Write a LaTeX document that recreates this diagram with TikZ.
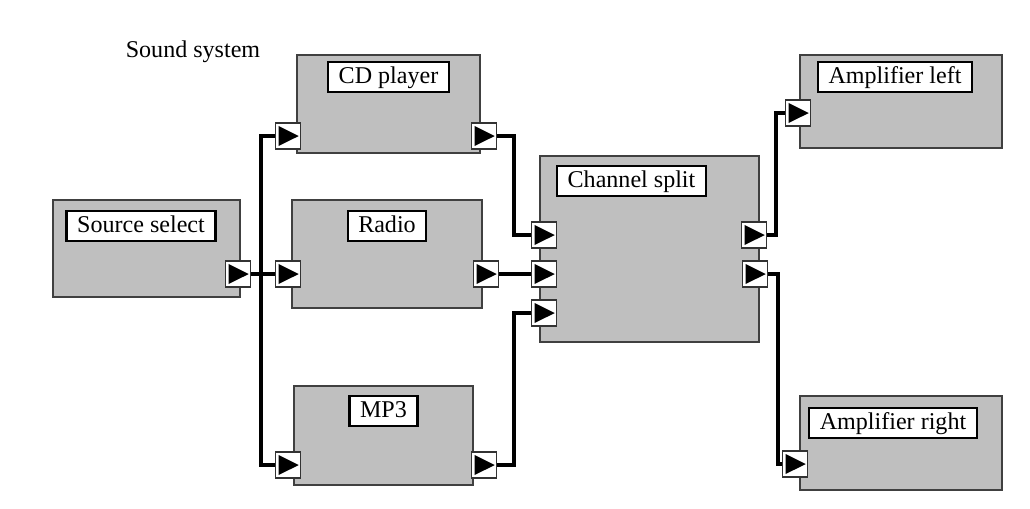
\documentclass[tikz,border=0pt]{standalone}
\usepackage{fontspec}
\setmainfont{Liberation Serif}
\usetikzlibrary{positioning}

\begin{document}
\begin{tikzpicture}[x=0.02cm, y=-0.02cm,
	every node/.style={font=\fontsize{13.7}{16}\selectfont},
	block/.style={draw=black!75, line width=1pt, fill=black!25, inner sep=0pt},
	tag/.style={draw, line width=1.3pt, fill=white, inner xsep=6pt, inner ysep=2pt, text height=9.8pt, text depth=3.2pt},
	port/.style={draw=black!80, line width=0.9pt, fill=white, inner sep=0pt, minimum width=0.5cm, minimum height=0.52cm,
		path picture={\fill[black] ([xshift=1.8pt,yshift=1.7pt]path picture bounding box.south west)
			-- ([xshift=1.8pt,yshift=-1.7pt]path picture bounding box.north west)
			-- ([xshift=-1pt]path picture bounding box.east) -- cycle;}},
	wire/.style={line width=2.2pt}]
	\useasboundingbox (0,0) rectangle (1030,508);
	\node (title) at (193,52) {Sound system};
	% blocks
	\node[block, minimum width=3.74cm, minimum height=1.94cm] (src) at (146.5,248.5) {};
	\node[block, minimum width=3.66cm, minimum height=1.96cm] (cd) at (388.5,104) {};
	\node[block, minimum width=3.80cm, minimum height=2.16cm] (radio) at (387,254) {};
	\node[block, minimum width=3.58cm, minimum height=1.98cm] (mp3) at (383.5,435.5) {};
	\node[block, minimum width=4.38cm, minimum height=3.72cm] (split) at (649.5,249) {};
	\node[block, minimum width=4.04cm, minimum height=1.86cm] (ampl) at (901,101.5) {};
	\node[block, minimum width=4.04cm, minimum height=1.88cm] (ampr) at (901,443) {};
	% block names
	\node[tag, below=0.22cm of src.north, xshift=-0.11cm] (srctag) {Source select};
	\node[tag, below=0.14cm of cd.north] (cdtag) {CD player};
	\node[tag, below=0.22cm of radio.north] (radiotag) {Radio};
	\node[tag, below=0.2cm of mp3.north] (mp3tag) {MP3};
	\node[tag, below=0.2cm of split.north, xshift=-0.36cm] (splittag) {Channel split};
	\node[tag, below=0.14cm of ampl.north, xshift=-0.12cm] (ampltag) {Amplifier left};
	\node[tag, below=0.24cm of ampr.north, xshift=-0.16cm] (amprtag) {Amplifier right};
	% ports
	\foreach \n/\x/\y in {srcout/238/274, cdin/288/136, cdout/484/136, rin/288/274, rout/486/274,
		mp3in/288/465, mp3out/484/465, sin1/544/235, sin2/544/274, sin3/544/313,
		sout1/754/235, sout2/755/274, alin/798/113, arin/795/464}
		\node[port] (\n) at (\x,\y) {};
	% wires
	\draw[wire] (srcout) -- (rin);
	\draw[wire] (cdin.west) -- ++(-0.28cm,0) |- (mp3in.west);
	\draw[wire] (cdout.east) -- ++(0.34cm,0) |- (sin1.west);
	\draw[wire] (rout) -- (sin2);
	\draw[wire] (mp3out.east) -- ++(0.34cm,0) |- (sin3.west);
	\draw[wire] (sout1.east) -- ++(0.18cm,0) |- (alin.west);
	\draw[wire] (sout2.east) -- ++(0.2cm,0) |- (arin.west);
\end{tikzpicture}
\end{document}
